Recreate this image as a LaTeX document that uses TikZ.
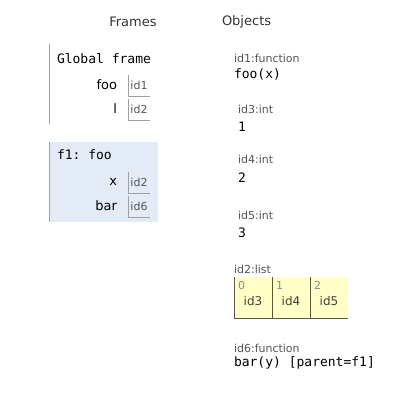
\documentclass[tikz,border=0pt]{standalone}
\usepackage{fontspec}
\setmainfont{DejaVu Sans}
\setmonofont{DejaVu Sans Mono}
\usetikzlibrary{positioning}

\definecolor{framebg}{HTML}{E2EBF6}
\definecolor{listbg}{HTML}{FFFFC6}
\definecolor{linegray}{HTML}{A0A0A0}
\definecolor{typegray}{HTML}{555555}
\definecolor{idxgray}{HTML}{888888}
\definecolor{listline}{HTML}{555555}

\begin{document}
\begin{tikzpicture}[x=1pt,y=-1pt,
	every node/.style={inner sep=0pt,outer sep=0pt},
	head/.style={font=\fontsize{13}{15}\selectfont,text=black!80},
	code/.style={font=\ttfamily\fontsize{13}{15}\selectfont,anchor=west},
	var/.style={font=\fontsize{13}{15}\selectfont,anchor=east},
	tlabel/.style={font=\fontsize{11}{13}\selectfont,text=typegray,anchor=west},
	vbox/.style={minimum width=22pt,minimum height=21pt,font=\fontsize{11}{13}\selectfont,text=typegray},
	cell/.style={minimum width=38pt,minimum height=41pt,fill=listbg},]
	\useasboundingbox (0,0) rectangle (400,403);

	% headings
	\node[head] (frames) at (133,22) {Frames};
	\node[head,anchor=west] (objects) at (222,22) {Objects};

	% global frame
	\node[minimum width=109pt,minimum height=80pt] (gf) at (103.5,84) {};
	\draw[linegray] (gf.north west) -- (gf.south west);
	\node[code] (gft) at (57,59) {Global frame};
	\node[var] (foo) at (117,85) {foo};
	\node[vbox] (foov) at (139,85.5) {id1};
	\node[var] (l) at (117,109) {l};
	\node[vbox] (lv) at (139,109.5) {id2};
	\draw[linegray] (foov.north west) |- (foov.south east);
	\draw[linegray] (lv.north west) |- (lv.south east);

	% f1 frame
	\node[fill=framebg,minimum width=109pt,minimum height=80pt] (f1) at (103.5,182) {};
	\draw[linegray] (f1.north west) -- (f1.south west);
	\node[code] (f1t) at (57,155) {f1: foo};
	\node[var] (x) at (117,182) {x};
	\node[vbox] (xv) at (139,182.5) {id2};
	\node[var] (bar) at (117,206) {bar};
	\node[vbox] (barv) at (139,206.5) {id6};
	\draw[linegray] (xv.north west) |- (xv.south east);
	\draw[linegray] (barv.north west) |- (barv.south east);

	% objects
	\node[tlabel] (id1t) at (234,58) {id1:function};
	\node[code] (id1) at (234,74) {foo(x)};
	\node[tlabel] (id3t) at (238,109) {id3:int};
	\node[code] (id3) at (238,127) {1};
	\node[tlabel] (id4t) at (238,159) {id4:int};
	\node[code] (id4) at (238,178) {2};
	\node[tlabel] (id5t) at (238,215) {id5:int};
	\node[code] (id5) at (238,233) {3};

	% the list
	\node[tlabel] (id2t) at (234,269) {id2:list};
	\foreach \i/\v in {0/id3,1/id4,2/id5} {
		\node[cell] (c\i) at (253+38*\i,297.5) {};
		\draw[listline] (c\i.north west) -- (c\i.south west);
		\node[font=\fontsize{11}{13}\selectfont,text=idxgray,anchor=west] (k\i) at ([xshift=4pt,yshift=-8pt]c\i.north west) {\i};
		\node[font=\fontsize{12}{14}\selectfont,text=black!75] (v\i) at ([yshift=-3.5pt]c\i.center) {\v};
	}
	\draw[listline,line width=1pt] (c0.south west) -- (c2.south east);

	\node[tlabel] (id6t) at (234,348) {id6:function};
	\node[code] (id6) at (234,363) {bar(y) [parent=f1]};
\end{tikzpicture}
\end{document}
